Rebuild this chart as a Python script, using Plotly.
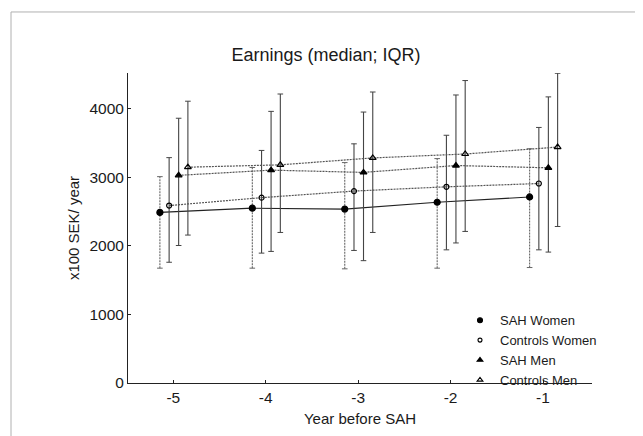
import plotly.graph_objects as go

years = [-5, -4, -3, -2, -1]
series_names = ["SAH Women", "Controls Women", "SAH Men", "Controls Men"]

sah_women_med = [2485, 2547, 2533, 2633, 2710]
sah_women_q1 = [1673, 1673, 1663, 1673, 1682]
sah_women_q3 = [3006, 3140, 3211, 3269, 3412]

ctrl_women_med = [2585, 2700, 2796, 2858, 2906]
ctrl_women_q1 = [1759, 1892, 1931, 1940, 1940]
ctrl_women_q3 = [3283, 3388, 3484, 3609, 3723]

sah_men_med = [3025, 3101, 3068, 3168, 3135]
sah_men_q1 = [2003, 1917, 1782, 2040, 1907]
sah_men_q3 = [3857, 3957, 3947, 4196, 4168]

ctrl_men_med = [3144, 3178, 3279, 3336, 3437]
ctrl_men_q1 = [2155, 2193, 2193, 2208, 2280]
ctrl_men_q3 = [4105, 4210, 4239, 4406, 4512]

y_ticks = [0, 1000, 2000, 3000, 4000]
x_ticks = [-5, -4, -3, -2, -1]

FONT = "Liberation Sans, Arial, sans-serif"
TXT = "#1a1a1a"

# page body adds an 8px offset; figure laid out in its own pixel coords
W, H = 635, 428
L, T, PW, PH = 120, 65, 464, 315

specs = [
    # name, med, q1, q3, offset, marker symbol, size, line dash, errbar dash
    ("SAH Women", sah_women_med, sah_women_q1, sah_women_q3, -0.145, "circle", 6, "solid", "2px,1px"),
    ("Controls Women", ctrl_women_med, ctrl_women_q1, ctrl_women_q3, -0.045, "circle-open", 5, "2px,1px", "solid"),
    ("SAH Men", sah_men_med, sah_men_q1, sah_men_q3, 0.058, "triangle-up", 6, "2px,1px", "solid"),
    ("Controls Men", ctrl_men_med, ctrl_men_q1, ctrl_men_q3, 0.158, "triangle-up-open", 6, "2px,1px", "solid"),
]

fig = go.Figure()

for name, med, q1, q3, off, sym, size, ldash, edash in specs:
    xs = [y + off for y in years]
    ex, ey = [], []
    for xv, lo, hi in zip(xs, q1, q3):
        ex += [xv, xv, None]
        ey += [lo, hi, None]
    ecol = "#444" if edash == "solid" else "#666"
    fig.add_trace(go.Scatter(
        x=ex, y=ey, mode="lines+markers",
        line=dict(color=ecol, width=1.1, dash=edash),
        marker=dict(symbol="line-ew", size=4, line=dict(color=ecol, width=1)),
        showlegend=False, hoverinfo="skip"))
    fig.add_trace(go.Scatter(
        x=xs, y=med, mode="lines+markers", name=name,
        line=dict(color="#222" if ldash == "solid" else "#555",
                  width=1.1 if ldash == "solid" else 1.2, dash=ldash),
        marker=dict(symbol=sym, size=size, color="black", line=dict(color="black", width=1.2)),
        showlegend=False))

for name, med, q1, q3, off, sym, size, ldash, edash in specs:
    fig.add_trace(go.Scatter(
        x=[None], y=[None], mode="markers", name=name,
        marker=dict(symbol=sym, size=size - 1, color="black", line=dict(color="black", width=1.1)),
        showlegend=True))

fig.update_layout(
    width=W, height=H,
    margin=dict(l=L, r=W - L - PW, t=T, b=H - T - PH),
    paper_bgcolor="white", plot_bgcolor="white",
    font=dict(family=FONT, size=15.5, color=TXT),
    title=dict(text="Earnings (median; IQR)", x=318 / W, xanchor="center",
               y=1 - 47 / H, yanchor="middle", font=dict(size=18, family=FONT, color=TXT)),
    showlegend=True,
    legend=dict(x=(452 - L) / PW, y=(T + PH - 301) / PH, xanchor="left", yanchor="top",
                bgcolor="rgba(0,0,0,0)", font=dict(size=13, family=FONT, color=TXT),
                itemwidth=30, tracegroupgap=0),
    xaxis=dict(range=[-5.49, -0.47], tickvals=x_ticks, ticktext=[str(v) for v in x_ticks],
               showgrid=False, zeroline=False, showline=True, linecolor="#222", linewidth=1,
               ticks="inside", ticklen=3, tickcolor="#222",
               title=dict(text="Year before SAH", font=dict(size=15, family=FONT, color=TXT), standoff=8)),
    yaxis=dict(range=[0, 4516], tickvals=y_ticks, ticktext=[str(v) for v in y_ticks],
               showgrid=False, zeroline=False, showline=True, linecolor="#222", linewidth=1,
               ticks="inside", ticklen=3, tickcolor="#222",
               title=dict(text="x100 SEK/ year", font=dict(size=15, family=FONT, color=TXT), standoff=6)),
    shapes=[dict(type="rect", xref="paper", yref="paper",
                 x0=(3 - L) / PW, x1=(700 - L) / PW,
                 y0=(T + PH - 460) / PH, y1=(T + PH - 3) / PH,
                 line=dict(color="#b0b0b0", width=1), fillcolor="rgba(0,0,0,0)", layer="below")],
)

fig.write_html("out.html")
